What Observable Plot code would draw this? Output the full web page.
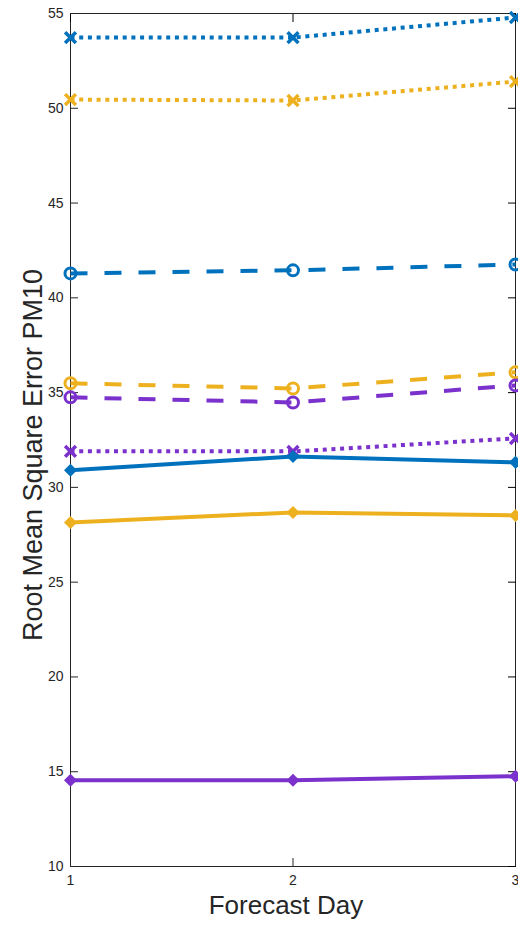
<!DOCTYPE html>
<html><head><meta charset="utf-8">
<script src="https://cdn.jsdelivr.net/npm/d3@7"></script>
<script src="https://cdn.jsdelivr.net/npm/@observablehq/plot@0.6"></script>
<style>body{margin:0;background:#fff;overflow:hidden}</style>
</head><body><div id="chart"></div>
<script>
const days = [1, 2, 3];
const yTicks = [10, 15, 20, 25, 30, 35, 40, 45, 50, 55];
const xLabel = "Forecast Day";
const yLabel = "Root Mean Square Error PM10";

const blueDotted = [53.73, 53.73, 54.79];
const yellowDotted = [50.46, 50.41, 51.41];
const blueDashed = [41.29, 41.45, 41.76];
const yellowDashed = [35.49, 35.22, 36.07];
const purpleDashed = [34.75, 34.48, 35.38];
const purpleDotted = [31.90, 31.90, 32.58];
const blueSolid = [30.90, 31.63, 31.32];
const yellowSolid = [28.15, 28.68, 28.52];
const purpleSolid = [14.55, 14.55, 14.76];

const BLUE = "#0072BD", YELLOW = "#EDB120", PURPLE = "#7B31CC";
const series = [
  {values: blueDotted, color: BLUE, kind: "dotted"},
  {values: yellowDotted, color: YELLOW, kind: "dotted"},
  {values: blueDashed, color: BLUE, kind: "dashed"},
  {values: yellowDashed, color: YELLOW, kind: "dashed"},
  {values: purpleDashed, color: PURPLE, kind: "dashed"},
  {values: purpleDotted, color: PURPLE, kind: "dotted"},
  {values: blueSolid, color: BLUE, kind: "solid"},
  {values: yellowSolid, color: YELLOW, kind: "solid"},
  {values: purpleSolid, color: PURPLE, kind: "solid"}
];
const dash = {dotted: "4,4.7", dashed: "17,17", solid: null};

const marks = [
  Plot.frame({stroke: "#262626", strokeWidth: 1}),
  Plot.axisY(yTicks, {anchor: "left", tickSize: -8, tickPadding: 15, label: null, fontSize: 14, color: "#262626"}),
  Plot.axisY(yTicks, {anchor: "right", tickSize: -8, tickFormat: () => "", label: null}),
  Plot.axisX(days, {anchor: "bottom", tickSize: -8, tickPadding: 17, label: null, fontSize: 14, tickFormat: d3.format("d"), color: "#262626"}),
  Plot.axisX(days, {anchor: "top", tickSize: -8, tickFormat: () => "", label: null})
];
for (const s of series) {
  const data = days.map((d, i) => ({day: d, v: s.values[i]}));
  marks.push(Plot.line(data, {x: "day", y: "v", stroke: s.color, strokeWidth: 4,
    strokeDasharray: dash[s.kind], strokeLinecap: "butt"}));
  if (s.kind === "dotted") {
    marks.push(Plot.dot(data, {x: "day", y: "v", symbol: "times", stroke: s.color, strokeWidth: 3.5, r: 5}));
  } else if (s.kind === "dashed") {
    marks.push(Plot.dot(data, {x: "day", y: "v", symbol: "circle", stroke: s.color, fill: "none", strokeWidth: 3, r: 5.5}));
  } else {
    marks.push(Plot.dot(data, {x: "day", y: "v", symbol: "square", rotate: 45, fill: s.color, r: 5.2}));
  }
}
marks.push(Plot.text([xLabel], {frameAnchor: "bottom", dx: -7, dy: 47, fontSize: 26, fill: "#262626"}));
marks.push(Plot.text([yLabel], {frameAnchor: "left", textAnchor: "middle", dx: -37, dy: 15, rotate: -90, fontSize: 27, fill: "#262626"}));

const chart = Plot.plot({
  width: 518, height: 925,
  marginLeft: 70, marginRight: 3, marginTop: 13, marginBottom: 59,
  style: {fontFamily: "'Liberation Sans', Arial, sans-serif", background: "#fff", overflow: "hidden"},
  x: {domain: [1, 3]},
  y: {domain: [10, 55]},
  marks
});
document.getElementById("chart").appendChild(chart);
</script>
</body></html>
